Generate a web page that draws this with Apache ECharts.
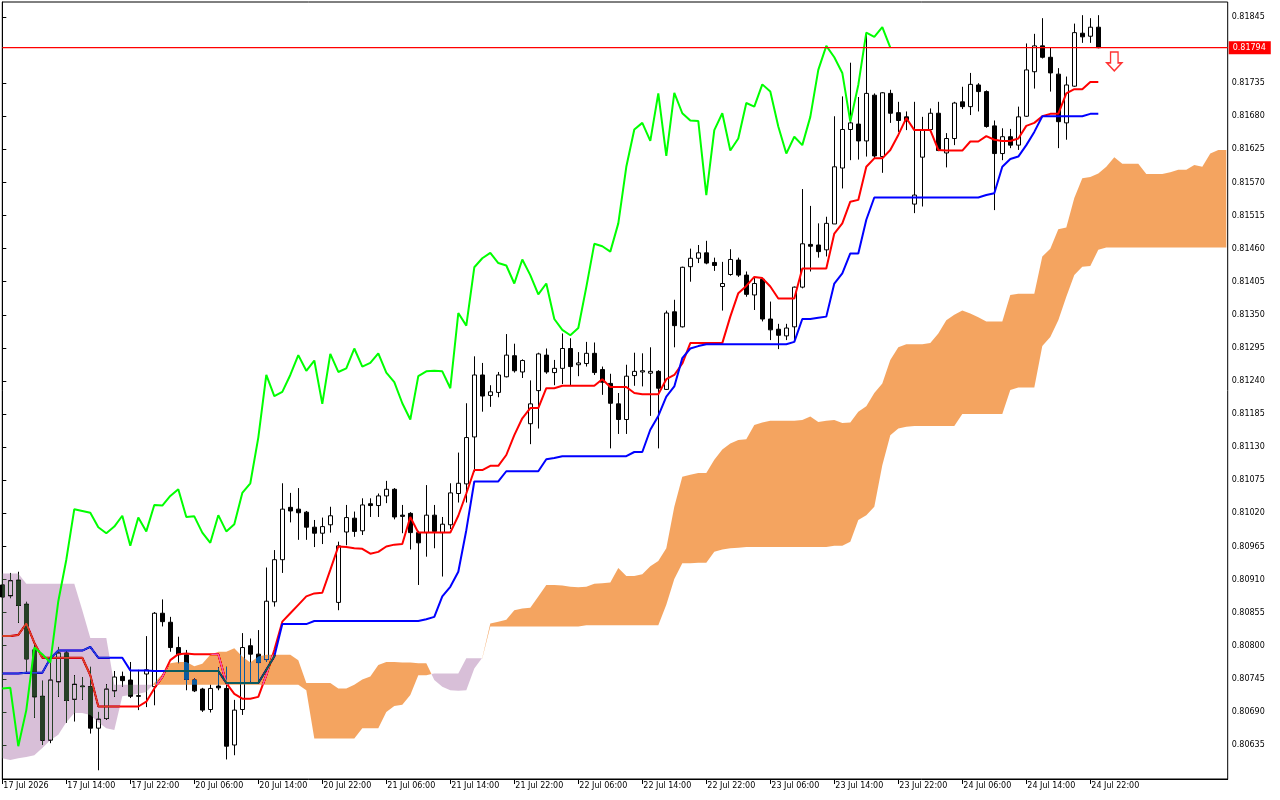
<!DOCTYPE html>
<html><head><meta charset="utf-8">
<script src="https://cdn.jsdelivr.net/npm/echarts@6/dist/echarts.min.js"></script>
<style>html,body{margin:0;padding:0;background:#fff}#c{width:1280px;height:800px}</style>
</head><body><div id="c"></div>
<script>
const timeLabels = ["17 Jul 2026","17 Jul 14:00","17 Jul 22:00","20 Jul 06:00","20 Jul 14:00","20 Jul 22:00","21 Jul 06:00","21 Jul 14:00","21 Jul 22:00","22 Jul 06:00","22 Jul 14:00","22 Jul 22:00","23 Jul 06:00","23 Jul 14:00","23 Jul 22:00","24 Jul 06:00","24 Jul 14:00","24 Jul 22:00"];
const barsPerLabel = 8;
const priceTicks = [0.80635,0.80690,0.80745,0.80800,0.80855,0.80910,0.80965,0.81020,0.81075,0.81130,0.81185,0.81240,0.81295,0.81350,0.81405,0.81460,0.81515,0.81570,0.81625,0.81680,0.81735,0.81845];

const opens = [
.80901,.80883,.80909,.80869,.80793,.80716,.80643,.80740,.80788,.80711,
.80733,.80732,.80663,.80679,.80725,.80749,.80743,.80717,.80753,.80732,
.80854,.80839,.80797,.80785,.80743,.80728,.80694,.80733,.80729,.80635,
.80694,.80800,.80786,.80777,.80873,.80943,.81030,.81027,.81022,.80997,
.80987,.81001,.80872,.80989,.81012,.80991,.81036,.81033,.81049,.81060,
.81017,.81020,.80988,.80988,.81017,.80988,.81001,.81053,.81069,.81147,
.81250,.81216,.81221,.81247,.81282,.81255,.81169,.81224,.81283,.81254,
.81261,.81294,.81267,.81269,.81286,.81259,.81236,.81202,.81176,.81249,
.81255,.81253,.81256,.81226,.81355,.81330,.81430,.81444,.81453,.81437,
.81397,.81417,.81441,.81416,.81383,.81409,.81343,.81326,.81315,.81330,
.81396,.81467,.81466,.81458,.81501,.81594,.81658,.81667,.81639,.81715,
.81613,.81718,.81686,.81679,.81534,.81612,.81658,.81685,.81619,.81643,
.81704,.81696,.81732,.81721,.81664,.81618,.81646,.81632,.81680,.81754,
.81797,.81778,.81750,.81669,.81730,.81818,.81813,.81828];
const closes = [
.80881,.80908,.80867,.80778,.80715,.80643,.80743,.80788,.80709,.80736,
.80732,.80663,.80678,.80728,.80748,.80742,.80716,.80716,.80760,.80854,
.80840,.80797,.80785,.80744,.80725,.80693,.80729,.80730,.80633,.80693,
.80797,.80786,.80772,.80874,.80943,.81027,.81024,.81021,.80997,.80987,
.80998,.81016,.80966,.81013,.80990,.81034,.81033,.81049,.81060,.81014,
.81015,.80988,.80971,.81017,.80990,.81002,.81054,.81070,.81146,.81250,
.81215,.81222,.81250,.81283,.81257,.81274,.81202,.81285,.81255,.81261,
.81294,.81264,.81270,.81286,.81254,.81238,.81203,.81176,.81248,.81256,
.81257,.81256,.81228,.81353,.81332,.81429,.81444,.81453,.81436,.81432,
.81402,.81442,.81416,.81384,.81402,.81343,.81325,.81316,.81328,.81396,
.81468,.81464,.81455,.81502,.81596,.81658,.81669,.81639,.81718,.81614,
.81719,.81685,.81673,.81672,.81549,.81657,.81685,.81623,.81643,.81702,
.81696,.81733,.81721,.81663,.81618,.81646,.81632,.81679,.81757,.81797,
.81778,.81752,.81671,.81732,.81819,.81812,.81828,.81794];
const lows = [
.80876,.80879,.80838,.80757,.80680,.80635,.80638,.80715,.80672,.80674,
.80710,.80654,.80593,.80677,.80715,.80732,.80713,.80693,.80698,.80701,
.80832,.80790,.80771,.80726,.80723,.80690,.80689,.80726,.80611,.80618,
.80685,.80740,.80740,.80773,.80865,.80921,.81005,.80976,.80976,.80964,
.80969,.80988,.80859,.80967,.80981,.80984,.81014,.81014,.81037,.81010,
.80987,.80960,.80901,.80948,.80962,.80915,.80994,.81038,.81038,.81089,
.81189,.81197,.81213,.81246,.81254,.81245,.81135,.81161,.81252,.81233,
.81235,.81233,.81248,.81264,.81250,.81217,.81128,.81152,.81152,.81232,
.81231,.81182,.81128,.81225,.81296,.81329,.81405,.81436,.81434,.81423,
.81357,.81415,.81413,.81380,.81358,.81339,.81308,.81293,.81308,.81308,
.81394,.81422,.81445,.81447,.81501,.81560,.81607,.81608,.81613,.81610,
.81586,.81669,.81654,.81657,.81519,.81530,.81657,.81622,.81595,.81632,
.81692,.81682,.81688,.81661,.81524,.81607,.81627,.81624,.81679,.81726,
.81776,.81721,.81627,.81641,.81729,.81802,.81802,.81793];
const highs = [
.80918,.80921,.80923,.80873,.80801,.80742,.80782,.80798,.80791,.80751,
.80748,.80765,.80690,.80736,.80758,.80757,.80773,.80760,.80816,.80856,
.80877,.80848,.80815,.80793,.80746,.80730,.80735,.80764,.80765,.80710,
.80821,.80812,.80826,.80930,.80959,.81070,.81054,.81062,.81024,.81009,
.81013,.81031,.80973,.81034,.81023,.81045,.81045,.81053,.81074,.81062,
.81034,.81022,.80991,.81067,.81034,.81014,.81070,.81121,.81203,.81281,
.81270,.81233,.81255,.81318,.81302,.81276,.81241,.81287,.81294,.81275,
.81319,.81311,.81288,.81305,.81304,.81264,.81252,.81220,.81267,.81287,
.81286,.81296,.81258,.81357,.81375,.81430,.81460,.81466,.81473,.81445,
.81438,.81459,.81445,.81422,.81411,.81411,.81372,.81335,.81335,.81397,
.81559,.81531,.81502,.81513,.81680,.81713,.81769,.81712,.81815,.81718,
.81720,.81724,.81704,.81688,.81704,.81679,.81693,.81704,.81652,.81704,
.81729,.81752,.81735,.81723,.81673,.81660,.81659,.81696,.81801,.81817,
.81843,.81795,.81760,.81746,.81834,.81848,.81843,.81848];

const tenkan = [
.80816,.80816,.80818,.80837,.80805,.80780,.80780,.80780,.80780,.80780,
.80780,.80751,.80699,.80699,.80699,.80699,.80699,.80699,.80707,.80729,
.80748,.80776,.80786,.80787,.80786,.80786,.80786,.80786,.80738,.80720,
.80712,.80712,.80715,.80751,.80793,.80840,.80854,.80868,.80882,.80887,
.80888,.80926,.80965,.80964,.80962,.80961,.80953,.80956,.80965,.80968,
.80969,.81014,.80988,.80988,.80988,.80988,.80988,.81016,.81053,.81092,
.81092,.81099,.81099,.81117,.81150,.81178,.81195,.81195,.81228,.81228,
.81232,.81232,.81232,.81232,.81232,.81243,.81230,.81230,.81230,.81220,
.81218,.81218,.81218,.81243,.81250,.81269,.81303,.81303,.81303,.81303,
.81303,.81347,.81386,.81398,.81413,.81411,.81397,.81377,.81377,.81377,
.81427,.81427,.81427,.81427,.81485,.81502,.81538,.81541,.81596,.81610,
.81610,.81624,.81649,.81677,.81657,.81657,.81657,.81624,.81623,.81623,
.81623,.81638,.81638,.81647,.81641,.81639,.81639,.81643,.81664,.81669,
.81680,.81684,.81684,.81718,.81725,.81725,.81737,.81737];
const kijun = [
.80754,.80754,.80754,.80755,.80755,.80755,.80779,.80792,.80792,.80792,
.80792,.80798,.80780,.80780,.80780,.80780,.80759,.80759,.80759,.80758,
.80758,.80758,.80758,.80758,.80758,.80758,.80758,.80758,.80738,.80738,
.80738,.80738,.80738,.80760,.80782,.80836,.80836,.80836,.80836,.80841,
.80841,.80841,.80841,.80841,.80841,.80841,.80841,.80841,.80841,.80841,
.80841,.80841,.80841,.80844,.80848,.80882,.80898,.80923,.80992,.81073,
.81073,.81073,.81073,.81090,.81090,.81090,.81090,.81090,.81110,.81112,
.81115,.81115,.81115,.81115,.81115,.81115,.81115,.81115,.81115,.81122,
.81122,.81159,.81182,.81214,.81231,.81278,.81294,.81298,.81301,.81301,
.81301,.81301,.81301,.81301,.81301,.81301,.81301,.81301,.81301,.81305,
.81343,.81343,.81345,.81347,.81402,.81419,.81452,.81452,.81508,.81545,
.81545,.81545,.81545,.81545,.81545,.81545,.81545,.81545,.81545,.81545,
.81545,.81545,.81545,.81549,.81552,.81596,.81609,.81613,.81632,.81654,
.81680,.81680,.81680,.81680,.81680,.81680,.81684,.81684];
const spanA = [
.80613,.80610,.80613,.80615,.80618,.80630,.80643,.80652,.80673,.80688,
.80688,.80685,.80673,.80663,.80660,.80716,.80718,.80720,.80723,.80738,
.80753,.80771,.80773,.80773,.80766,.80770,.80785,.80790,.80790,.80796,
.80782,.80772,.80782,.80785,.80785,.80785,.80785,.80776,.80738,.80738,
.80738,.80738,.80729,.80729,.80735,.80744,.80749,.80768,.80773,.80773,
.80772,.80772,.80771,.80771,.80743,.80732,.80726,.80725,.80726,.80762,
.80780,.80837,.80840,.80843,.80859,.80862,.80863,.80882,.80901,.80901,
.80900,.80898,.80897,.80898,.80903,.80904,.80905,.80929,.80916,.80916,
.80919,.80932,.80941,.80962,.81031,.81081,.81084,.81087,.81087,.81109,
.81126,.81136,.81142,.81143,.81167,.81171,.81174,.81174,.81174,.81174,
.81175,.81181,.81172,.81174,.81175,.81170,.81171,.81189,.81198,.81220,
.81236,.81275,.81296,.81301,.81301,.81301,.81303,.81319,.81341,.81350,
.81357,.81352,.81346,.81339,.81339,.81339,.81383,.81385,.81385,.81385,
.81447,.81460,.81492,.81495,.81544,.81577,.81579,.81585,.81596,.81612,
.81601,.81601,.81601,.81584,.81584,.81584,.81587,.81591,.81591,.81599,
.81596,.81618,.81624,.81624];
const spanB = [
.80920,.80920,.80920,.80903,.80903,.80903,.80903,.80903,.80903,.80903,
.80859,.80813,.80813,.80813,.80735,.80735,.80735,.80735,.80735,.80735,
.80735,.80735,.80735,.80735,.80735,.80735,.80735,.80735,.80735,.80735,
.80735,.80735,.80735,.80735,.80735,.80735,.80735,.80735,.80726,.80646,
.80646,.80646,.80646,.80646,.80646,.80663,.80663,.80663,.80690,.80700,
.80702,.80718,.80751,.80751,.80754,.80754,.80754,.80754,.80779,.80779,
.80779,.80832,.80832,.80832,.80832,.80832,.80832,.80832,.80832,.80832,
.80832,.80832,.80832,.80834,.80834,.80834,.80834,.80834,.80834,.80834,
.80834,.80834,.80834,.80868,.80911,.80937,.80937,.80938,.80938,.80956,
.80960,.80962,.80963,.80964,.80964,.80964,.80964,.80964,.80964,.80964,
.80964,.80964,.80964,.80964,.80966,.80966,.80973,.81009,.81017,.81031,
.81100,.81150,.81161,.81164,.81165,.81165,.81165,.81165,.81165,.81165,
.81185,.81185,.81185,.81185,.81185,.81185,.81225,.81229,.81229,.81229,
.81298,.81313,.81341,.81380,.81416,.81430,.81431,.81458,.81462,.81462,
.81462,.81462,.81462,.81462,.81462,.81462,.81462,.81462,.81462,.81462,
.81462,.81462,.81462,.81462];
const chikouShift = 26;
const bidPrice = 0.81794;
const sellArrow = [139, 0.81771];

// ---- build library data from the arrays ----
const FONT = 'DejaVu Sans';
const X_MAX = 153.175;
const CLOUD_UP_INV = '#0B5B9F';   // difference-blended over white -> #F4A460 (sandy brown)
const CLOUD_DN_INV = '#274027';   // difference-blended over white -> #D8BFD8 (thistle)
const candleData = opens.map((o, i) => [i, o, closes[i], lows[i], highs[i]]);
const tenkanData = tenkan.map((v, i) => [i, v]);
const kijunData = kijun.map((v, i) => [i, v]);
const chikouData = closes.slice(chikouShift).map((v, i) => [i, v]);
const cloudData = spanA.map((a, i) => [i, a, spanB[i]]);
const xTickValues = timeLabels.map((_, k) => k * barsPerLabel);
const bidData = [[0, bidPrice], [X_MAX, bidPrice]];

// split the cloud into runs where span A is above / below span B
function cloudRuns() {
  const runs = [];
  let cur = {up: spanA[0] >= spanB[0], a: [[0, spanA[0]]], b: [[0, spanB[0]]]};
  runs.push(cur);
  for (let i = 1; i < spanA.length; i++) {
    const d0 = spanA[i - 1] - spanB[i - 1], d1 = spanA[i] - spanB[i];
    const up = d1 >= 0;
    if (up !== cur.up) {
      const t = d0 / (d0 - d1);
      const xc = i - 1 + t, yc = spanA[i - 1] + (spanA[i] - spanA[i - 1]) * t;
      cur.a.push([xc, yc]); cur.b.push([xc, yc]);
      cur = {up: up, a: [[xc, yc]], b: [[xc, yc]]};
      runs.push(cur);
    }
    cur.a.push([i, spanA[i]]); cur.b.push([i, spanB[i]]);
  }
  return runs;
}
const runs = cloudRuns();

function renderCloud(params, api) {
  if (params.dataIndex !== 0) return null;
  const children = runs.map(r => ({
    type: 'polygon',
    shape: {points: r.a.concat(r.b.slice().reverse()).map(p => api.coord(p))},
    style: {fill: r.up ? CLOUD_UP_INV : CLOUD_DN_INV, stroke: null}
  }));
  return {type: 'group', children: children};
}

const chart = echarts.init(document.getElementById('c'), null, {renderer: 'canvas', width: 1280, height: 800});
chart.setOption({
  animation: false,
  backgroundColor: '#ffffff',
  grid: {left: 2.3, right: 52.3, top: 2, bottom: 21, show: true, borderColor: '#000', borderWidth: 1, backgroundColor: 'transparent'},
  xAxis: {
    type: 'value', min: 0, max: X_MAX, position: 'bottom',
    axisLine: {show: true, onZero: false, lineStyle: {color: '#000', width: 1}},
    axisTick: {show: true, length: 5, customValues: xTickValues, lineStyle: {color: '#000', width: 1}},
    axisLabel: {show: true, customValues: xTickValues, formatter: v => timeLabels[Math.round(v / barsPerLabel)] || '',
      align: 'left', margin: 3, padding: [0, 0, 0, 1], color: '#000', fontFamily: FONT, fontSize: 8},
    splitLine: {show: false}
  },
  yAxis: {
    type: 'value', position: 'right', min: 0.805785, max: 0.818699,
    axisLine: {show: true, lineStyle: {color: '#000', width: 1}},
    axisTick: {show: true, length: 4, customValues: priceTicks, lineStyle: {color: '#000', width: 1}},
    axisLabel: {show: true, customValues: priceTicks, formatter: v => Number(v).toFixed(5), margin: 4, color: '#000', fontFamily: FONT, fontSize: 8},
    splitLine: {show: false}
  },
  series: [
    {type: 'candlestick', data: candleData, barWidth: 5, z: 2, silent: true,
      itemStyle: {color: '#ffffff', color0: '#000000', borderColor: '#000000', borderColor0: '#000000', borderWidth: 1}},
    {type: 'line', data: tenkanData, symbol: 'none', showSymbol: false, z: 3, silent: true,
      lineStyle: {color: '#ff0000', width: 2}},
    {type: 'line', data: kijunData, symbol: 'none', showSymbol: false, z: 3, silent: true,
      lineStyle: {color: '#0000ff', width: 2}},
    {type: 'custom', data: cloudData, renderItem: renderCloud, z: 4, silent: true, clip: true,
      blendMode: 'difference', encode: {x: 0, y: [1, 2]}},
    {type: 'line', data: chikouData, symbol: 'none', showSymbol: false, z: 5, silent: true,
      lineStyle: {color: '#00ff00', width: 2}},
    {type: 'line', data: bidData, symbol: 'none', showSymbol: false, z: 6, silent: true, clip: false,
      lineStyle: {color: '#ff0000', width: 1.2},
      endLabel: {show: true, distance: 1, formatter: bidPrice.toFixed(5), color: '#ffffff',
        backgroundColor: '#ff0000', padding: [3, 5, 2, 4], fontFamily: FONT, fontSize: 8}},
    {type: 'scatter', data: [sellArrow], z: 7, silent: true,
      symbol: 'path://M4,0 L12,0 L12,11.5 L16,11.5 L8,20 L0,11.5 L4,11.5 Z', symbolSize: [15, 19],
      itemStyle: {color: '#ffffff', borderColor: '#ff0000', borderWidth: 1.5}}
  ]
});
</script></body></html>
